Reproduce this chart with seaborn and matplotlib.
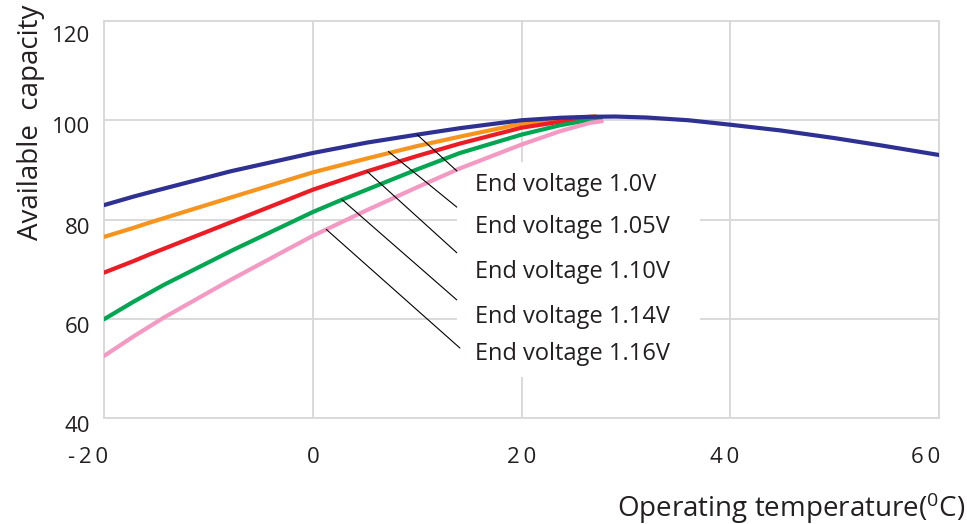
import pandas as pd
import matplotlib.pyplot as plt
import matplotlib.transforms as mtransforms
from matplotlib.patches import Rectangle
import seaborn as sns

# curve readings (temperature in C, capacity in %)
temp_100 = [-20, -17.2, -15.6, -7.9, 0, 5.2, 10, 14.1, 20, 23.7, 26.6, 29, 32, 36, 40, 44.8, 50, 54.4, 60]
cap_100 = [82.9, 84.6, 85.5, 89.7, 93.4, 95.5, 97.1, 98.4, 100.0, 100.5, 100.7, 100.75, 100.55, 100.0, 99.1, 97.95, 96.4, 94.95, 93.0]
temp_105 = [-20, -17.2, -15.6, -7.9, 0, 5.2, 10, 14.1, 20, 23.7, 27.1]
cap_105 = [76.5, 78.3, 79.4, 84.4, 89.5, 92.3, 94.8, 96.7, 99.3, 100.2, 100.8]
temp_110 = [-20, -17.2, -15.6, -7.9, 0, 5.2, 10, 14.1, 20, 23.7, 26.6, 27.4]
cap_110 = [69.3, 71.6, 73.0, 79.4, 86.0, 89.7, 92.8, 95.3, 98.5, 99.7, 100.5, 100.6]
temp_114 = [-20, -17.2, -14.3, -7.6, 0, 2.8, 10, 14.1, 20, 23.7, 26.6, 27.6]
cap_114 = [59.9, 63.4, 66.8, 73.9, 81.5, 84.0, 90.1, 93.4, 97.1, 99.0, 100.1, 100.2]
temp_116 = [-20, -17.2, -14.3, -7.9, -2.5, 0, 5.2, 10, 14.1, 20, 23.7, 26.6, 27.7]
cap_116 = [52.5, 56.4, 60.2, 67.8, 73.9, 76.7, 81.9, 86.5, 90.3, 95.1, 97.8, 99.5, 99.8]

labels = ["End voltage 1.0V", "End voltage 1.05V", "End voltage 1.10V",
          "End voltage 1.14V", "End voltage 1.16V"]
colors = ["#2e3192", "#f7941d", "#ed1c24", "#00a651", "#f49ac2"]

# leader lines: from a point on the curve to the label
leader_x0 = [10.0, 7.25, 5.2, 2.8, 1.3]
leader_y0 = [97.1, 93.7, 89.7, 84.0, 78.0]
leader_x1 = [13.8, 13.8, 13.8, 13.8, 14.1]
leader_y1 = [89.8, 82.5, 73.3, 63.8, 54.1]
label_y = [87.0, 78.5, 69.5, 60.4, 52.9]

x_ticks = [-20, 0, 20, 40, 60]
x_ticklabels = ["-\u20092\u20090", "0", "2\u20090", "4\u20090", "6\u20090"]
y_ticks = [40, 60, 80, 100, 120]

sns.set_theme(style="whitegrid")
plt.rcParams['font.family'] = ['Open Sans', 'DejaVu Sans']
plt.rcParams['mathtext.fontset'] = 'custom'
plt.rcParams['mathtext.rm'] = 'Open Sans'
text_color = "#231f20"

frames = []
for lab, t, c in zip(labels, [temp_100, temp_105, temp_110, temp_114, temp_116],
                     [cap_100, cap_105, cap_110, cap_114, cap_116]):
    frames.append(pd.DataFrame({"temp": t, "cap": c, "curve": lab}))
df = pd.concat(frames, ignore_index=True)

fig = plt.figure(figsize=(9.67, 5.24), dpi=100)
ax = fig.add_axes([104 / 967, 1 - 418 / 524, 835 / 967, 397 / 524])

# white box behind the labels hides part of the grid
ax.add_patch(Rectangle((13.8, 48.3), 23.3, 43.3, facecolor="white",
                       edgecolor="none", zorder=1))

sns.lineplot(data=df, x="temp", y="cap", hue="curve", hue_order=labels,
             palette=colors, sort=False, estimator=None, lw=3,
             legend=False, ax=ax, zorder=3)
for line in ax.lines:
    line.set_solid_joinstyle("round")
# dark blue curve on top
ax.lines[0].set_zorder(4)

for x0, y0, x1, y1 in zip(leader_x0, leader_y0, leader_x1, leader_y1):
    ax.plot([x0, x1], [y0, y1], color="black", lw=0.8, zorder=5)
for lab, ly in zip(labels, label_y):
    ax.text(15.55, ly, lab, fontsize=17, color=text_color,
            ha="left", va="center", zorder=6)

ax.set_xlim(-20, 60)
ax.set_ylim(40, 120)
ax.set_xticks(x_ticks)
ax.set_xticklabels(x_ticklabels)
ax.set_yticks(y_ticks)
ax.set_xlabel("")
ax.set_ylabel("")
ax.set_axisbelow(True)
ax.grid(True, color="#d9d9d9", lw=1.4)
for sp in ax.spines.values():
    sp.set_color("#d9d9d9")
    sp.set_linewidth(1.4)
ax.tick_params(axis="both", length=0, labelsize=16, labelcolor=text_color)
ax.tick_params(axis="x", pad=21)
ax.tick_params(axis="y", pad=10)

x_shift = [-16, 0, 0, -6, -13]
for lbl, dx in zip(ax.get_xticklabels(), x_shift):
    lbl.set_transform(lbl.get_transform() +
                      mtransforms.ScaledTranslation(dx / 100, 0, fig.dpi_scale_trans))
y_shift = [6, 6, 6, 5, 13]
for lbl, dy in zip(ax.get_yticklabels(), y_shift):
    lbl.set_transform(lbl.get_transform() +
                      mtransforms.ScaledTranslation(0, -dy / 100, fig.dpi_scale_trans))

fig.text(31 / 967, 1 - 122 / 524, "Available  capacity", rotation=90,
         fontsize=20, color=text_color, ha="center", va="center")
fig.text(965 / 967, 1 - 508 / 524, r"Operating temperature($\mathregular{^0}$C)",
         fontsize=20, color=text_color, ha="right", va="center")

fig.savefig("out.png", dpi=100)
